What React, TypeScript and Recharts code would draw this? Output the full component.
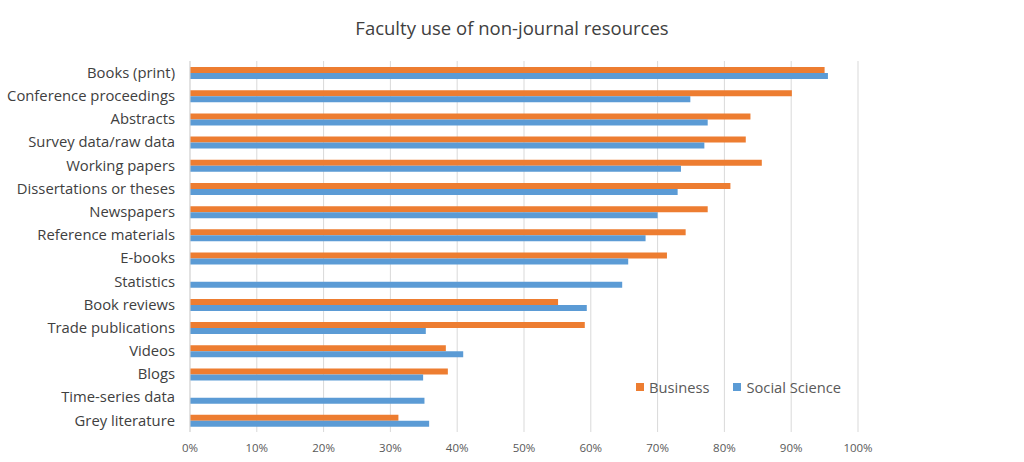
import { BarChart, Bar, XAxis, YAxis, CartesianGrid, Legend } from 'recharts'

const categories = [
  'Books (print)',
  'Conference proceedings',
  'Abstracts',
  'Survey data/raw data',
  'Working papers',
  'Dissertations or theses',
  'Newspapers',
  'Reference materials',
  'E-books',
  'Statistics',
  'Book reviews',
  'Trade publications',
  'Videos',
  'Blogs',
  'Time-series data',
  'Grey literature',
]

const business = [95.0, 90.1, 83.9, 83.2, 85.6, 80.9, 77.5, 74.2, 71.4, null, 55.1, 59.1, 38.3, 38.6, null, 31.2]
const socialScience = [95.5, 74.9, 77.5, 77.0, 73.5, 73.0, 70.0, 68.2, 65.6, 64.7, 59.4, 35.3, 40.9, 34.9, 35.1, 35.8]

const xTicks = [0, 10, 20, 30, 40, 50, 60, 70, 80, 90, 100]

const data = categories.map((name, i) => ({
  name,
  business: business[i],
  social: socialScience[i],
}))

const FONT = '"Open Sans", sans-serif'
const ORANGE = '#ED7D31'
const BLUE = '#5B9BD5'

function LegendBox() {
  const items = [
    { label: 'Business', color: ORANGE },
    { label: 'Social Science', color: BLUE },
  ]
  return (
    <div style={{ display: 'flex', gap: 24, fontFamily: FONT, fontSize: 14.7, color: '#595959' }}>
      {items.map((it) => (
        <div key={it.label} style={{ display: 'flex', alignItems: 'center', gap: 5 }}>
          <span style={{ width: 8, height: 8, background: it.color, display: 'inline-block' }} />
          <span>{it.label}</span>
        </div>
      ))}
    </div>
  )
}

export default function App() {
  return (
    <div style={{ position: 'absolute', left: 0, top: 0, width: 1024, height: 462, background: '#fff' }}>
      <div
        style={{
          position: 'absolute',
          left: 0,
          top: 15,
          width: 1024,
          textAlign: 'center',
          fontFamily: FONT,
          fontSize: 18.5,
          color: '#404040',
        }}
      >
        Faculty use of non-journal resources
      </div>
      <BarChart
        width={1024}
        height={462}
        data={data}
        layout="vertical"
        margin={{ top: 61, right: 166, bottom: 10, left: 0 }}
        barCategoryGap="24%"
        barGap={0}
      >
        <CartesianGrid horizontal={false} stroke="#d9d9d9" />
        <XAxis
          type="number"
          domain={[0, 100]}
          ticks={xTicks}
          tickFormatter={(v) => `${v}%`}
          axisLine={false}
          tickLine={false}
          tickMargin={6}
          height={20}
          tick={{ fontFamily: FONT, fontSize: 11.5, fill: '#595959' }}
        />
        <YAxis
          type="category"
          dataKey="name"
          width={190}
          interval={0}
          axisLine={{ stroke: '#d9d9d9' }}
          tickLine={false}
          tickMargin={9}
          tick={{ fontFamily: FONT, fontSize: 14.8, fill: '#404040' }}
        />
        <Legend
          layout="horizontal"
          align="center"
          verticalAlign="middle"
          content={() => <LegendBox />}
          wrapperStyle={{ position: 'absolute', left: 636, top: 377, width: 'auto' }}
        />
        <Bar dataKey="business" name="Business" fill={ORANGE} barSize={6} isAnimationActive={false} />
        <Bar dataKey="social" name="Social Science" fill={BLUE} barSize={6} isAnimationActive={false} />
      </BarChart>
    </div>
  )
}
